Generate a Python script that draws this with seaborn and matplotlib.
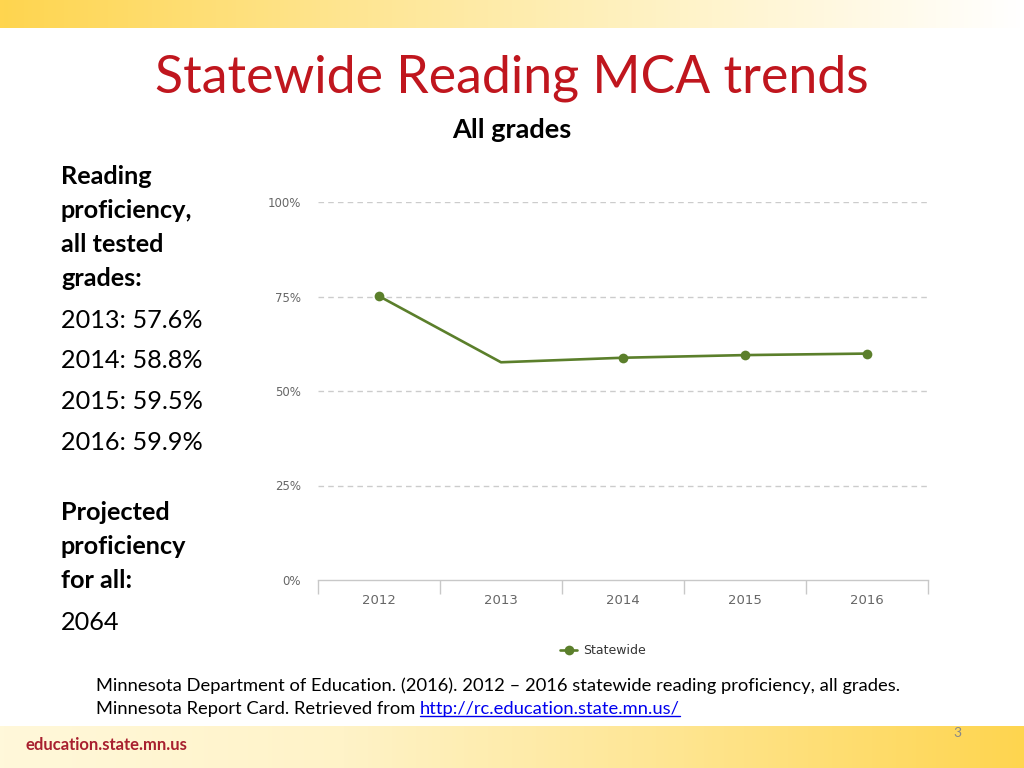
import numpy as np
import pandas as pd
import matplotlib
matplotlib.use("Agg")
import matplotlib.pyplot as plt
from matplotlib.colors import LinearSegmentedColormap
from matplotlib.lines import Line2D
import seaborn as sns

# ---- data ----
years = ["2012", "2013", "2014", "2015", "2016"]
statewide = [75.1, 57.6, 58.8, 59.5, 59.9]
marker_idx = [0, 2, 3, 4]
y_ticks = [0, 25, 50, 75, 100]
y_tick_labels = ["0%", "25%", "50%", "75%", "100%"]
side_heading = ["Reading", "proficiency,", "all tested", "grades:"]
side_values = ["2013: 57.6%", "2014: 58.8%", "2015: 59.5%", "2016: 59.9%"]
side_heading2 = ["Projected", "proficiency", "for all:"]
side_value2 = "2064"

sns.set_theme(style="white")
plt.rcParams['font.family'] = ['Lato', 'DejaVu Sans']

W, H = 1024, 768
fig = plt.figure(figsize=(W / 100, H / 100), dpi=100)
fig.patch.set_facecolor("white")

# background gradients
bg = fig.add_axes([0, 0, 1, 1], zorder=-10)
bg.axis("off")
gold = LinearSegmentedColormap.from_list("g", ["#FFD54F", "#FEE590", "#FFF3C8", "#FFFFFF"])
grad = np.linspace(0, 1, 256).reshape(1, -1)
bg.imshow(grad, cmap=gold, extent=[0, W, 28, 0], aspect="auto")
gold2 = LinearSegmentedColormap.from_list("g2", ["#FFF8DA", "#FFF3C8", "#FEE590", "#FFD54F"])
bg.imshow(grad, cmap=gold2, extent=[0, W, H, 726], aspect="auto")
bg.set_xlim(0, W)
bg.set_ylim(H, 0)

# chart
ax = fig.add_axes([318 / W, 1 - 580 / H, 610 / W, 378 / H])
df = pd.DataFrame({"Year": years, "Proficiency": statewide})
green = "#5B7F2B"
sns.lineplot(data=df, x="Year", y="Proficiency", ax=ax, color=green, linewidth=1.9,
             marker="o", markersize=7, markeredgewidth=0, markevery=marker_idx,
             sort=False)
ax.set_xlim(-0.5, len(years) - 0.5)
ax.set_ylim(0, 100)
ax.set_yticks(y_ticks)
ax.set_yticklabels(y_tick_labels)
for t in y_ticks[1:]:
    ax.axhline(t, color="#CCCCCC", linewidth=1, linestyle=(0, (4, 3)), zorder=0)
ax.set_xlabel("")
ax.set_ylabel("")
for s in ["top", "right", "left"]:
    ax.spines[s].set_visible(False)
ax.spines["bottom"].set_color("#C8C8C8")
ax.spines["bottom"].set_linewidth(1)
ax.set_xticks(np.arange(len(years)))
ax.set_xticklabels(years)
ax.set_xticks(np.arange(len(years) + 1) - 0.5, minor=True)
ax.tick_params(axis="x", which="major", length=0, pad=10, labelsize=9.5, labelcolor="#666666")
ax.tick_params(axis="x", which="minor", length=10, width=1, color="#C8C8C8", direction="out", bottom=True)
ax.tick_params(axis="y", length=0, pad=12.5, labelsize=8.5, labelcolor="#666666")
for lab in ax.get_xticklabels() + ax.get_yticklabels():
    lab.set_fontfamily("DejaVu Sans")
ax.set_facecolor("none")
ax.grid(False)

handle = Line2D([0], [0], color=green, linewidth=1.9, marker="o", markersize=7, markeredgewidth=0)
fig.legend([handle], ["Statewide"], loc="center", bbox_to_anchor=(603 / W, 1 - 651 / H),
           frameon=False, handlelength=1.3, handletextpad=0.5,
           prop={"family": "DejaVu Sans", "size": 9}, labelcolor="#333333")

# texts
fig.text(512 / W, 1 - 78 / H, "Statewide Reading MCA trends", ha="center", va="center",
         color="#C0161E", fontsize=37.4)
fig.text(512 / W, 1 - 130 / H, "All grades", ha="center", va="center",
         color="black", fontsize=19.5, fontweight="bold")

fs = 18.2
y = 177
for line in side_heading:
    fig.text(61 / W, 1 - y / H, line, ha="left", va="center", fontsize=fs, fontweight="bold", color="black")
    y += 34
y = 320
for line in side_values:
    fig.text(61 / W, 1 - y / H, line, ha="left", va="center", fontsize=fs, color="black")
    y += 40.7
y = 512
for line in side_heading2:
    fig.text(61 / W, 1 - y / H, line, ha="left", va="center", fontsize=fs, fontweight="bold", color="black")
    y += 34.5
fig.text(61 / W, 1 - 622 / H, side_value2, ha="left", va="center", fontsize=fs, color="black")

fn = 13.2
fig.text(96 / W, 1 - 686 / H,
         "Minnesota Department of Education. (2016). 2012 \u2013 2016 statewide reading proficiency, all grades.",
         ha="left", va="center", fontsize=fn, color="black")
t1 = fig.text(96 / W, 1 - 709 / H, "Minnesota Report Card. Retrieved from ",
              ha="left", va="center", fontsize=fn, color="black")
fig.canvas.draw()
bb = t1.get_window_extent()
url_x = bb.x1 / W
t2 = fig.text(url_x, 1 - 709 / H, "http://rc.education.state.mn.us/", ha="left", va="center",
              fontsize=fn, color="#0000EE")
fig.canvas.draw()
bb2 = t2.get_window_extent()
fig.add_artist(Line2D([bb2.x0 / W, bb2.x1 / W], [(bb2.y0 + 1) / H, (bb2.y0 + 1) / H],
                      color="#0000EE", linewidth=1, transform=fig.transFigure))

fig.text(25 / W, 1 - 745 / H, "education.state.mn.us", ha="left", va="center",
         fontsize=12, fontweight="bold", color="#A8202F")
fig.text(957 / W, 1 - 733 / H, "3", ha="center", va="center", fontsize=10, color="#888888")

fig.savefig("out.png", dpi=100)
